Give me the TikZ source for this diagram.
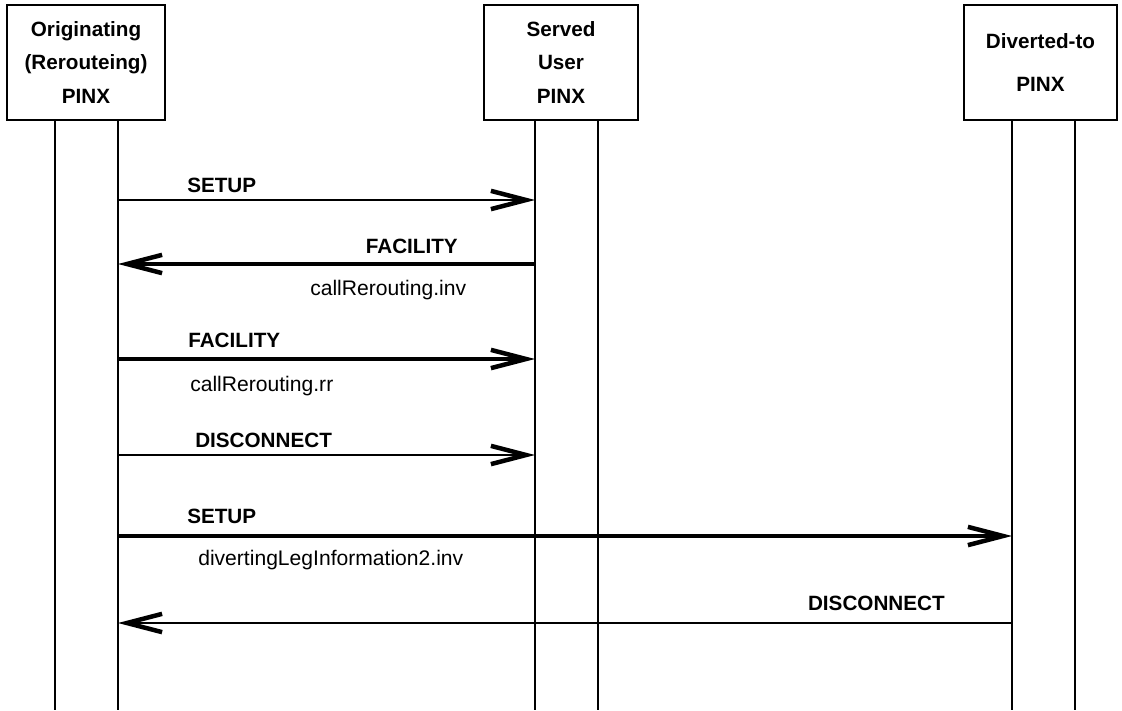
\documentclass[tikz,border=0pt]{standalone}
\usepackage{fontspec}
\setmainfont{Liberation Sans}
\usetikzlibrary{arrows.meta}

\tikzset{
  pbox/.style={draw, line width=2pt, minimum height=2.875cm, align=center,
    font=\bfseries\fontsize{14.7}{23.5}\selectfont},
  life/.style={line width=1.8pt},
  msg/.style={line width=1.4pt,
    -{Straight Barb[length=25pt,width=13pt,line width=3.2pt]}},
  msgbold/.style={msg, line width=3.5pt},
  mname/.style={font=\bfseries\fontsize{14.7}{17}\selectfont, inner sep=0pt},
  mpar/.style={font=\fontsize{15}{17}\selectfont, inner sep=0pt}
}

\begin{document}
\begin{tikzpicture}[x=0.025cm, y=-0.025cm]
    \useasboundingbox (0,0) rectangle (1122,710);

    % the three PINXs
    \node[pbox, minimum width=3.95cm] (orig) at (86,62.5) {Originating\\(Rerouteing)\\PINX};
    \node[pbox, minimum width=3.85cm] (served) at (561,62.5) {Served\\User\\PINX};
    \node[pbox, minimum width=3.825cm] (divto) at (1040.5,62.5) {Diverted-to\\[7pt]PINX};

    % lifelines
    \coordinate (oL) at (55,120);
    \coordinate (oR) at (118,120);
    \coordinate (sL) at (535,120);
    \coordinate (sR) at (598,120);
    \coordinate (dL) at (1012,120);
    \coordinate (dR) at (1075,120);
    \foreach \l in {oL,oR,sL,sR,dL,dR}
        \draw[life] (\l) -- (\l |- 0,710);

    % messages
    \draw[msg] (oR |- 0,200) -- (sL |- 0,200);
    \node[mname, anchor=base west] (m1) at (187,192) {SETUP};

    \draw[msgbold] (sL |- 0,264) -- (oR |- 0,264);
    \node[mname, anchor=base east] (m2) at (458,253) {FACILITY};
    \node[mpar, anchor=base west] (p2) at (310,295) {callRerouting.inv};

    \draw[msgbold] (oR |- 0,359) -- (sL |- 0,359);
    \node[mname, anchor=base west] (m3) at (188,347) {FACILITY};
    \node[mpar, anchor=base west] (p3) at (190,391) {callRerouting.rr};

    \draw[msg] (oR |- 0,455) -- (sL |- 0,455);
    \node[mname, anchor=base west] (m4) at (195,447) {DISCONNECT};

    \draw[msgbold] (oR |- 0,536) -- (dL |- 0,536);
    \node[mname, anchor=base west] (m5) at (187,523) {SETUP};
    \node[mpar, anchor=base west] (p5) at (198,565) {divertingLegInformation2.inv};

    \draw[msg] (dL |- 0,623) -- (oR |- 0,623);
    \node[mname, anchor=base east] (m6) at (945,610) {DISCONNECT};
\end{tikzpicture}
\end{document}
